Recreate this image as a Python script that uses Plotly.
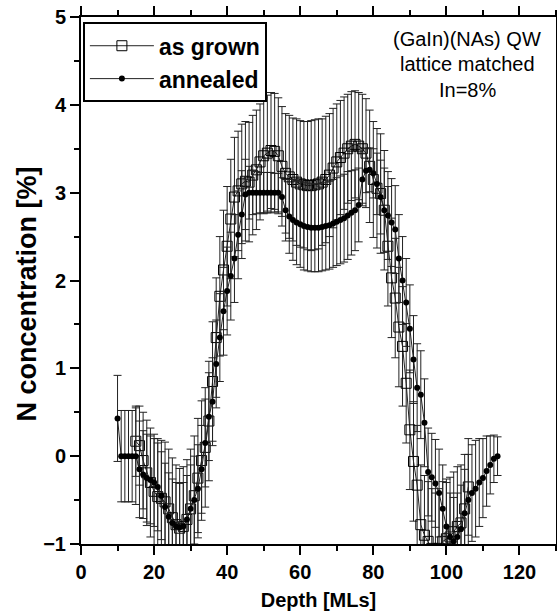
import plotly.graph_objects as go

# ---------------- data ----------------
grown_depth = list(range(15, 107))
grown_n = [0.17, 0.12, -0.05, -0.19, -0.30, -0.40, -0.46, -0.48, -0.52, -0.60,
           -0.70, -0.78, -0.82, -0.80, -0.72, -0.60, -0.45, -0.25, -0.05, 0.10,
           0.40, 0.85, 1.35, 1.82, 2.12, 2.39, 2.70, 2.95, 3.02, 3.10,
           3.13, 3.12, 3.20, 3.26, 3.35, 3.42, 3.45, 3.48, 3.47, 3.42,
           3.30, 3.22, 3.18, 3.15, 3.12, 3.10, 3.09, 3.08, 3.08, 3.09,
           3.10, 3.12, 3.15, 3.20, 3.28, 3.35, 3.40, 3.45, 3.50, 3.53,
           3.55, 3.53, 3.50, 3.45, 3.30, 3.15, 3.05, 2.99, 2.80, 2.39,
           2.03, 1.80, 1.47, 1.25, 0.83, 0.30, -0.06, -0.33, -0.78, -0.90,
           -0.97, -1.05, -1.10, -1.05, -0.97, -0.94, -0.92, -0.86, -0.80, -0.76,
           -0.60, -0.35]
grown_err = [0.40, 0.45, 0.55, 0.60, 0.62, 0.65, 0.66, 0.66, 0.68, 0.68,
             0.68, 0.68, 0.68, 0.68, 0.68, 0.68, 0.68, 0.68, 0.68, 0.68,
             0.68, 0.68, 0.68, 0.68, 0.68, 0.68, 0.68, 0.68, 0.68, 0.68,
             0.68, 0.68, 0.68, 0.68, 0.66, 0.66, 0.66, 0.66, 0.66, 0.66,
             0.68, 0.68, 0.70, 0.70, 0.72, 0.72, 0.72, 0.73, 0.74, 0.74,
             0.74, 0.72, 0.72, 0.70, 0.68, 0.66, 0.65, 0.64, 0.62, 0.62,
             0.61, 0.61, 0.62, 0.62, 0.64, 0.66, 0.68, 0.68, 0.68, 0.68,
             0.68, 0.68, 0.68, 0.68, 0.68, 0.68, 0.68, 0.68, 0.68, 0.68,
             0.68, 0.68, 0.68, 0.68, 0.68, 0.68, 0.68, 0.68, 0.68, 0.66,
             0.62, 0.55]

annealed_depth = list(range(10, 115))
annealed_n = [0.43, 0.00, 0.00, 0.00, 0.00, 0.00, -0.15, -0.21, -0.25, -0.27,
              -0.30, -0.35, -0.45, -0.58, -0.69, -0.76, -0.80, -0.81, -0.80, -0.72,
              -0.60, -0.50, -0.37, -0.15, 0.15, 0.45, 0.62, 1.05, 1.35, 1.65,
              1.88, 2.05, 2.25, 2.52, 2.75, 2.98, 3.00, 3.00, 3.00, 3.00,
              3.00, 3.00, 3.00, 3.00, 3.00, 2.95, 2.80, 2.73, 2.69, 2.66,
              2.64, 2.62, 2.61, 2.60, 2.60, 2.60, 2.61, 2.62, 2.63, 2.65,
              2.67, 2.69, 2.71, 2.74, 2.77, 2.80, 2.86, 3.15, 3.25, 3.26,
              3.22, 3.10, 2.95, 2.80, 2.74, 2.66, 2.58, 2.25, 2.00, 1.75,
              1.45, 1.10, 0.78, 0.70, 0.38, -0.18, -0.24, -0.31, -0.42, -0.60,
              -0.80, -0.92, -0.97, -0.92, -0.83, -0.65, -0.50, -0.42, -0.37, -0.30,
              -0.25, -0.17, -0.10, -0.03, 0.00]
annealed_err = [0.49, 0.52, 0.52, 0.52, 0.52, 0.55, 0.55, 0.50, 0.50, 0.50,
                0.50, 0.50, 0.50, 0.50, 0.50, 0.50, 0.50, 0.50, 0.50, 0.50,
                0.50, 0.50, 0.50, 0.50, 0.50, 0.50, 0.50, 0.50, 0.50, 0.50,
                0.50, 0.50, 0.50, 0.50, 0.50, 0.40, 0.30, 0.25, 0.24, 0.23,
                0.23, 0.23, 0.23, 0.22, 0.22, 0.22, 0.35, 0.42, 0.46, 0.48,
                0.49, 0.50, 0.50, 0.50, 0.50, 0.50, 0.50, 0.50, 0.50, 0.50,
                0.50, 0.50, 0.50, 0.50, 0.48, 0.46, 0.42, 0.30, 0.25, 0.25,
                0.28, 0.35, 0.42, 0.48, 0.50, 0.50, 0.50, 0.50, 0.50, 0.50,
                0.50, 0.50, 0.50, 0.50, 0.50, 0.50, 0.50, 0.50, 0.50, 0.50,
                0.50, 0.50, 0.50, 0.50, 0.50, 0.50, 0.52, 0.55, 0.55, 0.50,
                0.45, 0.40, 0.33, 0.27, 0.22]

x_ticks = [0, 20, 40, 60, 80, 100, 120]
y_ticks = [-1, 0, 1, 2, 3, 4, 5]
note_lines = ["(GaIn)(NAs) QW", "lattice matched", "In=8%"]
y_title = "N concentration [%]"

FONT = "Arial, Liberation Sans, sans-serif"

fig = go.Figure()
fig.add_trace(go.Scatter(
    x=grown_depth, y=grown_n, name="as grown", mode="lines+markers",
    line=dict(color="#222", width=1),
    marker=dict(symbol="square-open", size=10, color="black", line=dict(width=1)),
    error_y=dict(type="data", array=grown_err, visible=True, color="#222",
                 thickness=1, width=4),
))
fig.add_trace(go.Scatter(
    x=annealed_depth, y=annealed_n, name="annealed", mode="lines+markers",
    line=dict(color="#222", width=1),
    marker=dict(symbol="circle", size=6, color="black"),
    error_y=dict(type="data", array=annealed_err, visible=True, color="#222",
                 thickness=1, width=4),
))

axis_common = dict(
    showline=True, linecolor="black", linewidth=2, mirror="allticks",
    ticks="outside", ticklen=9, tickwidth=2, tickcolor="black",
    showgrid=False, zeroline=False, automargin=False,
    tickfont=dict(family=FONT, size=20, color="black", weight="bold"),
)
fig.update_xaxes(range=[0, 130], tickvals=x_ticks,
                 minor=dict(ticks="outside", ticklen=5, tickwidth=2, dtick=10,
                            tickcolor="black", showgrid=False),
                 title=dict(text="Depth [MLs]", standoff=11,
                            font=dict(family=FONT, size=20, color="black", weight="bold")),
                 **axis_common)
fig.update_yaxes(range=[-1, 5], tickvals=y_ticks,
                 minor=dict(ticks="outside", ticklen=5, tickwidth=2, dtick=0.5,
                            tickcolor="black", showgrid=False),
                 **axis_common)

# y-axis title as a rotated text annotation (positioned like the reference)
fig.add_annotation(text=y_title, xref="paper", yref="paper", x=-0.113, y=0.474,
                   xanchor="center", yanchor="middle", textangle=-90, showarrow=False,
                   font=dict(family=FONT, size=27, color="black", weight="bold"))

for txt, yp in zip(note_lines, [0.958, 0.911, 0.862]):
    fig.add_annotation(text=txt, xref="paper", yref="paper", x=0.813, y=yp,
                       xanchor="center", yanchor="middle", showarrow=False,
                       font=dict(family=FONT, size=20, color="black"))

fig.update_layout(
    width=557, height=616,
    margin=dict(l=81, r=1, t=17, b=72),
    plot_bgcolor="white", paper_bgcolor="white",
    showlegend=True,
    legend=dict(x=0.004, y=0.99, xanchor="left", yanchor="top",
                bgcolor="white", bordercolor="black", borderwidth=2,
                itemwidth=64, tracegroupgap=0,
                font=dict(family=FONT, size=23, color="black", weight="bold")),
)

fig.write_html("out.html", config={"displayModeBar": False},
               post_script="document.body.style.margin='0px';document.body.style.overflow='hidden';")
